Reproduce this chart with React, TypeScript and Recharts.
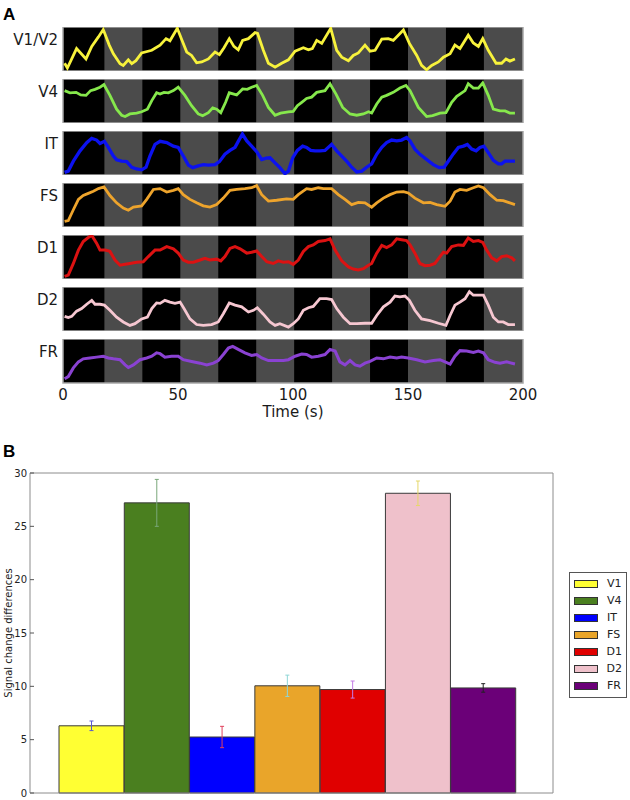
import React from "react";
import { LineChart, Line, XAxis, YAxis, ReferenceArea, BarChart, Bar, ErrorBar, Legend } from "recharts";

// ---- panel A: block-design time courses (t in s, signal scaled 0-100 inside each row) ----
const timeTicks = [0, 50, 100, 150, 200];
const restBlocks: [number, number][] = [
  [18, 34.5], [51, 67.5], [84, 100.5], [117, 133.5], [150, 166.5], [183, 200],
];

const v1v2Trace: [number, number][] = [
  [0.7, 17], [1.9, 6], [5.9, 51], [10, 27], [12.5, 56], [15.4, 78], [17.5, 95], [20.1, 59], [21.9, 39],
  [24.8, 16], [26.2, 12], [28.4, 25], [29.9, 16], [31.7, 23], [34.2, 41], [38.6, 47], [42.2, 59], [44.8, 74],
  [46.5, 69], [49.7, 98], [51.6, 72], [53.8, 43], [55.9, 35], [58.1, 18], [60.3, 20], [63.2, 27], [66.1, 43],
  [68, 37], [70, 53], [72.3, 74], [74.3, 56], [76.2, 48], [78.1, 70], [80.6, 74], [83.5, 88], [84.6, 86],
  [87.1, 47], [89.3, 17], [92.2, 8], [95.1, 17], [98, 25], [100.9, 45], [104.5, 53], [106.7, 48], [108.4, 51],
  [110.3, 70], [112.5, 63], [116.4, 98], [119, 47], [121.2, 31], [124.1, 23], [126.2, 35], [128.4, 41],
  [131.3, 59], [133.5, 45], [135.7, 47], [138.6, 73], [141.4, 74], [143.6, 70], [148, 94], [150.6, 63],
  [153.8, 35], [155.9, 12], [158.1, 2], [160.3, 12], [163.2, 20], [165.4, 31], [168.3, 39], [170.4, 59],
  [172.6, 51], [176.2, 82], [178.4, 64], [180.6, 56], [182.5, 74], [184.9, 47], [188.3, 17], [190.7, 17],
  [192.6, 27], [194.3, 22], [196.5, 27],
];

const v4Trace: [number, number][] = [
  [0.7, 74], [3, 69], [5.7, 70], [7.7, 64], [10, 63], [12, 74], [13.9, 77], [16.1, 82], [17.8, 88], [20.4, 63],
  [23.3, 31], [25.5, 17], [27, 14], [29.1, 20], [32, 22], [34.2, 25], [36.7, 31], [38.6, 51], [40.7, 69],
  [42.2, 66], [43.9, 70], [45.8, 69], [48, 74], [50.1, 82], [53, 63], [55.9, 39], [58.8, 20], [60.7, 16],
  [63.2, 23], [65.1, 34], [66.8, 31], [68.6, 23], [70.7, 47], [72.3, 69], [74.3, 66], [75.5, 64], [78.1, 78],
  [80.1, 77], [82, 82], [84.2, 86], [86.8, 63], [89.3, 35], [92.2, 17], [94.6, 22], [98, 25], [100.1, 26],
  [101.9, 39], [103.8, 47], [105.9, 56], [108.1, 59], [110.3, 70], [113.9, 74], [116.1, 90], [118.7, 66],
  [121.6, 35], [124.8, 20], [127.7, 17], [130.6, 20], [132.8, 25], [134.2, 22], [136.4, 43], [138.6, 59],
  [140.7, 63], [143.6, 70], [146.5, 80], [149.1, 86], [150.9, 74], [154.5, 35], [158.1, 14], [160.7, 16],
  [163.9, 22], [166.5, 23], [169, 47], [171.2, 61], [172.6, 66], [174.8, 74], [176.2, 90], [178.4, 80],
  [180.6, 80], [182.5, 92], [184.9, 63], [187.1, 31], [190, 27], [192.2, 27], [194.3, 22], [196.5, 22],
];

const itTrace: [number, number][] = [
  [0.7, 5], [2.3, 8], [4.5, 31], [7.4, 55], [10.3, 74], [12.5, 84], [14.6, 80], [16.1, 72], [18, 77], [19.7, 63],
  [21.9, 43], [23.3, 34], [25.5, 31], [27.7, 30], [29.9, 17], [32, 13], [34.2, 11], [36.1, 17], [37.8, 43],
  [40, 70], [42.2, 77], [45.1, 74], [48, 66], [50.1, 63], [52.3, 43], [54.5, 22], [56.4, 16], [58.8, 20],
  [61, 23], [63.2, 22], [66.1, 23], [68, 30], [70.4, 47], [72.6, 56], [74.8, 63], [76.2, 77], [78, 94],
  [79.9, 78], [82, 66], [84.2, 53], [86.4, 35], [88.3, 38], [90, 39], [92.2, 27], [94.3, 16], [96.5, 2],
  [98, 8], [99.9, 39], [101.9, 56], [104.2, 66], [105.9, 63], [107.7, 56], [109.6, 55], [111.7, 55],
  [113.9, 56], [116.8, 70], [119, 55], [121.2, 43], [123.3, 31], [125.5, 17], [127.7, 6], [129.9, 8],
  [132, 17], [134.2, 25], [136.4, 47], [138.6, 63], [140.7, 74], [142.9, 80], [145.1, 78], [147.2, 80],
  [149.4, 86], [150.9, 78], [153, 59], [155.2, 47], [158.1, 35], [161, 23], [163.6, 16], [165.7, 17],
  [167.5, 31], [169.7, 48], [171.9, 63], [174.1, 66], [175.8, 70], [177.7, 59], [179.6, 55], [181.3, 63],
  [183, 66], [184.9, 51], [187.1, 33], [189.3, 25], [190.7, 25], [192.2, 31], [194.3, 31], [196.5, 31],
];

const fsTrace: [number, number][] = [
  [0.7, 12], [2.3, 14], [4.5, 39], [6.7, 63], [8.8, 72], [11, 77], [13.2, 82], [15.4, 88], [17.8, 92], [20.4, 72],
  [23.3, 55], [26.2, 43], [28.4, 38], [30.6, 45], [34.2, 48], [36.4, 63], [39.3, 86], [42.2, 88], [45.1, 80],
  [48, 84], [50.1, 88], [52.3, 74], [55.2, 63], [58.1, 55], [61, 48], [63.9, 45], [66.8, 51], [69.7, 66],
  [72.6, 84], [75.5, 86], [79.1, 88], [82, 90], [84.2, 95], [86.4, 74], [89.3, 59], [92.9, 61], [97.2, 64],
  [100.1, 63], [102.3, 74], [105.9, 88], [108.1, 86], [111, 90], [113.2, 88], [116.8, 88], [119.7, 74],
  [122.6, 63], [125.5, 51], [128.4, 56], [131.3, 55], [134.2, 45], [136.4, 55], [139.3, 66], [142.2, 74],
  [145.1, 80], [148, 81], [150.1, 78], [153, 66], [156.7, 55], [159.6, 56], [162.5, 51], [166.1, 47],
  [168.3, 59], [170.4, 80], [172.6, 86], [175.5, 84], [178.4, 90], [180.6, 94], [182.8, 90], [185.7, 74],
  [188.6, 61], [191.4, 60], [193.6, 56], [196.5, 51],
];

const d1Trace: [number, number][] = [
  [0.7, 5], [2.3, 8], [4.5, 35], [6.7, 66], [8.8, 86], [11, 95], [12.5, 100], [14.6, 82], [16.1, 66], [18.3, 66],
  [20.4, 63], [22.6, 43], [24.8, 31], [27, 33], [29.1, 35], [32, 38], [34.9, 39], [37.1, 51], [40, 66],
  [42.2, 66], [45.1, 74], [48, 69], [50.1, 59], [52.3, 43], [54.5, 38], [56.7, 38], [59.6, 43], [61.7, 47],
  [63.9, 43], [66.8, 45], [68.6, 41], [70.4, 51], [72.6, 70], [74.8, 74], [77, 69], [79.9, 59], [82, 61],
  [84.2, 64], [86.4, 51], [88.6, 39], [91.4, 35], [93.6, 41], [95.8, 38], [98, 39], [100.1, 33], [102.3, 43],
  [104.5, 63], [106.7, 74], [108.8, 78], [111, 86], [113.9, 88], [116.1, 92], [118.3, 66], [121.2, 41],
  [124.1, 27], [126.2, 22], [128.4, 20], [130.6, 23], [132.8, 31], [134.2, 35], [136.4, 59], [138.6, 77],
  [140.7, 72], [142.9, 78], [145.1, 92], [147.2, 90], [149.4, 88], [150.9, 78], [153, 59], [155.2, 35],
  [157.4, 30], [159.6, 31], [161.7, 35], [163.9, 51], [165.4, 61], [166.8, 59], [169, 74], [171.9, 78],
  [174.1, 77], [176.2, 94], [178.4, 86], [180.6, 88], [182.5, 84], [184.2, 66], [186.4, 48], [188.6, 41],
  [190.7, 51], [192.9, 53], [195.1, 48], [196.5, 41],
];

const d2Trace: [number, number][] = [
  [0.7, 33], [2.3, 30], [3.8, 33], [5.9, 45], [8.1, 51], [10.3, 61], [12.5, 70], [13.9, 61], [16.1, 61], [18, 59],
  [20.4, 47], [23.3, 31], [26.2, 20], [29.1, 12], [31.3, 16], [34.2, 27], [36.7, 31], [38.6, 51], [40.7, 64],
  [42.2, 63], [44.3, 70], [46.5, 66], [48.7, 63], [50.9, 66], [52.6, 51], [55.2, 27], [58.1, 14], [61, 12],
  [64.6, 14], [67.5, 20], [69.7, 39], [72.3, 64], [74.8, 59], [77.7, 55], [80.6, 43], [82.8, 47], [84.5, 53],
  [87.1, 38], [90, 20], [92.2, 12], [94.3, 16], [98, 8], [100.1, 16], [102.3, 27], [104.5, 47], [106.7, 53],
  [108.8, 56], [111.7, 74], [114.6, 74], [116.8, 72], [119, 51], [121.9, 31], [124.8, 16], [127.7, 16],
  [131.3, 17], [134.2, 17], [136.4, 35], [139.3, 55], [142.2, 66], [144.3, 80], [146.5, 78], [148.7, 80],
  [150.6, 70], [153, 47], [155.9, 27], [159.6, 23], [163.2, 17], [166.5, 12], [168.3, 35], [170.4, 59],
  [172.6, 66], [174.8, 74], [176.7, 90], [178.4, 82], [180.6, 82], [182.8, 82], [184.9, 59], [187.1, 31],
  [189.3, 20], [191.4, 20], [193.6, 14], [196.5, 14],
];

const frTrace: [number, number][] = [
  [0.7, 9], [2.3, 14], [4.5, 34], [6.7, 48], [8.8, 55], [11.7, 57], [14.6, 59], [17.5, 61], [19.7, 57], [21.9, 55],
  [24.8, 53], [27, 41], [28.4, 35], [30.6, 41], [33.5, 53], [36.4, 57], [38.6, 61], [40.7, 69], [42.2, 67],
  [44.3, 59], [47.2, 61], [50.1, 61], [52.3, 53], [55.9, 49], [59.6, 45], [62.5, 41], [65.4, 45], [67.5, 51],
  [69.7, 65], [71.9, 80], [73.8, 84], [76.2, 77], [79.1, 69], [82, 63], [84.2, 65], [86.4, 57], [89.3, 51],
  [92.9, 51], [95.8, 51], [98, 53], [100.9, 61], [103.8, 66], [105.9, 65], [108.1, 59], [111, 61], [113.9, 65],
  [116.1, 77], [118.3, 73], [120.4, 48], [122.6, 41], [124.8, 51], [127, 41], [129.1, 38], [131.3, 45],
  [133.5, 49], [136.4, 57], [139.3, 55], [142.2, 59], [145.1, 57], [147.2, 59], [150.1, 57], [153.8, 53],
  [157.4, 48], [161, 51], [163.9, 53], [166.1, 48], [168.3, 43], [170.4, 61], [172.6, 74], [175.5, 73],
  [178.4, 70], [180.6, 73], [182.8, 69], [184.9, 53], [187.8, 47], [190, 45], [192.9, 48], [196.5, 43],
];

// ---- panel B: signal change differences per region ----
const regions = ["V1", "V4", "IT", "FS", "D1", "D2", "FR"];
const signalDiff = [6.3, 27.2, 5.25, 10.05, 9.7, 28.1, 9.85];
const signalErr = [0.45, 2.2, 1.0, 1.0, 0.8, 1.15, 0.4];
const yTicks = [0, 5, 10, 15, 20, 25, 30];

const FONT = "'DejaVu Sans', sans-serif";

const traces = [
  { label: "V1/V2", color: "#f7f23c", width: 2.8, points: v1v2Trace },
  { label: "V4", color: "#86e84c", width: 2.8, points: v4Trace },
  { label: "IT", color: "#0c12f0", width: 3.3, points: itTrace },
  { label: "FS", color: "#eea42c", width: 2.8, points: fsTrace },
  { label: "D1", color: "#dc1212", width: 3, points: d1Trace },
  { label: "D2", color: "#f6c7d1", width: 2.8, points: d2Trace },
  { label: "FR", color: "#8a42d2", width: 3, points: frTrace },
];

const barColors = ["#ffff33", "#4a7f1f", "#0000ff", "#e9a52a", "#e00000", "#efc1cb", "#6b0078"];
const errColors = ["#5858d0", "#7aa87a", "#e0405c", "#8fd6d6", "#c47ce6", "#e6d868", "#222222"];

const ROW_TOP = 27;
const ROW_PITCH = 52;
const ROW_H = 44;
const AXIS_H = 22;

interface TraceProps {
  label: string;
  color: string;
  width: number;
  points: [number, number][];
  top: number;
  showAxis: boolean;
}

const TracePanel: React.FC<TraceProps> = ({ label, color, width, points, top, showAxis }) => {
  const data = points.map(([t, v]) => ({ t, v }));
  const height = ROW_H + (showAxis ? AXIS_H : 0);
  return (
    <div style={{ position: "absolute", left: 0, top, width: 630, height }}>
      <div
        style={{
          position: "absolute",
          right: 630 - 58,
          top: 6,
          fontSize: 15,
          lineHeight: "15px",
          color: "#1a1a1a",
          whiteSpace: "nowrap",
        }}
      >
        {label}
      </div>
      <LineChart width={630} height={height} data={data} margin={{ top: 0, right: 107, bottom: 0, left: 63 }}>
        <XAxis
          dataKey="t"
          type="number"
          domain={[0, 200]}
          ticks={timeTicks}
          interval={0}
          hide={!showAxis}
          height={AXIS_H}
          axisLine={false}
          tickLine={false}
          tickSize={4}
          tickMargin={2}
          tick={{ fontSize: 15, fill: "#1a1a1a" }}
        />
        <YAxis type="number" domain={[-1, 101]} hide />
        <ReferenceArea x1={0} x2={200} fill="#000" fillOpacity={1} stroke="none" />
        {restBlocks.map(([a, b]) => (
          <ReferenceArea key={a} x1={a} x2={b} fill="#4b4b4b" fillOpacity={1} stroke="none" />
        ))}
        <ReferenceArea x1={0} x2={200} fill="none" stroke="#a6a6a6" strokeWidth={1.5} />
        <Line
          dataKey="v"
          type="linear"
          stroke={color}
          strokeWidth={width}
          dot={false}
          activeDot={false}
          isAnimationActive={false}
        />
      </LineChart>
    </div>
  );
};

const LegendBox = ({ payload }: any) => {
  // keep the legend in the plotting order of the bars
  const items = [...(payload || [])].sort((a: any, b: any) => regions.indexOf(a.value) - regions.indexOf(b.value));
  return (
    <div style={{ border: "1.5px solid #555", background: "#fff", padding: "2px 4px 3px 4px", fontFamily: FONT }}>
      {items.map((entry: any) => (
        <div key={entry.value} style={{ display: "flex", alignItems: "center", height: 17 }}>
          <span
            style={{
              display: "inline-block",
              width: 22,
              height: 6,
              background: entry.color,
              border: "1px solid #333",
              marginRight: 9,
            }}
          />
          <span style={{ fontSize: 11, color: "#222" }}>{entry.value}</span>
        </div>
      ))}
    </div>
  );
};

export default function App() {
  const barData = regions.map((r, i) => ({ name: r, [r]: signalDiff[i], [`${r}Err`]: signalErr[i] }));

  return (
    <div style={{ position: "absolute", left: 0, top: 0, width: 630, height: 800, background: "#fff", fontFamily: FONT }}>
      <div style={{ position: "absolute", left: 3, top: 6, fontSize: 17, lineHeight: "17px", fontWeight: "bold", fontFamily: "'Liberation Sans', Arial, sans-serif" }}>
        A
      </div>
      {traces.map((tr, i) => (
        <TracePanel
          key={tr.label}
          label={tr.label}
          color={tr.color}
          width={tr.width}
          points={tr.points}
          top={ROW_TOP + i * ROW_PITCH}
          showAxis={i === traces.length - 1}
        />
      ))}
      <div style={{ position: "absolute", left: 243, width: 100, textAlign: "center", top: 405, fontSize: 15, lineHeight: "15px", color: "#1a1a1a" }}>
        Time (s)
      </div>

      <div style={{ position: "absolute", left: 3, top: 443, fontSize: 17, lineHeight: "17px", fontWeight: "bold", fontFamily: "'Liberation Sans', Arial, sans-serif" }}>
        B
      </div>
      <div style={{ position: "absolute", left: 0, top: 463 }}>
        <BarChart
          width={630}
          height={337}
          data={barData}
          margin={{ top: 9, right: 76, bottom: 6, left: 0 }}
          barCategoryGap={0}
          barGap={0}
        >
          <XAxis
            dataKey="name"
            height={1}
            tick={false}
            tickLine={false}
            axisLine={{ stroke: "#8c8c8c" }}
            padding={{ left: 29, right: 37 }}
          />
          <XAxis
            xAxisId="top"
            orientation="top"
            dataKey="name"
            height={1}
            tick={false}
            tickLine={false}
            axisLine={{ stroke: "#8c8c8c" }}
          />
          <YAxis
            type="number"
            domain={[0, 30]}
            ticks={yTicks}
            interval={0}
            width={30}
            tickSize={-4}
            tickMargin={7}
            axisLine={{ stroke: "#8c8c8c" }}
            tickLine={{ stroke: "#555" }}
            tick={{ fontSize: 10, fill: "#222" }}
            label={{
              value: "Signal change differences",
              angle: -90,
              position: "insideLeft",
              offset: 8,
              style: { textAnchor: "middle", fontSize: 10, fill: "#222" },
            }}
          />
          <YAxis
            yAxisId="right"
            orientation="right"
            type="number"
            domain={[0, 30]}
            ticks={yTicks}
            interval={0}
            width={1}
            tick={{ fill: "none", fontSize: 1 }}
            tickSize={-4}
            axisLine={{ stroke: "#8c8c8c" }}
            tickLine={{ stroke: "#555" }}
          />
          <Legend
            layout="vertical"
            align="center"
            verticalAlign="middle"
            content={(props: any) => <LegendBox payload={props.payload} />}
            wrapperStyle={{ left: 569, top: 109, width: 58 }}
          />
          {regions.map((r, i) => (
            <Bar
              key={r}
              dataKey={r}
              name={r}
              stackId="all"
              fill={barColors[i]}
              stroke="#3a3a3a"
              strokeWidth={1}
              isAnimationActive={false}
            >
              <ErrorBar dataKey={`${r}Err`} direction="y" width={2} stroke={errColors[i]} strokeWidth={1} />
            </Bar>
          ))}
        </BarChart>
      </div>
    </div>
  );
}
